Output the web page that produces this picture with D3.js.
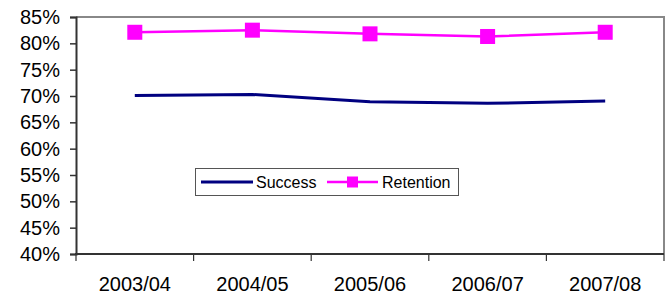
<!DOCTYPE html>
<html><head><meta charset="utf-8">
<script src="https://cdn.jsdelivr.net/npm/d3@7"></script>
<style>body{margin:0;background:#fff}svg{display:block}text{font-family:"Liberation Sans",Arial,sans-serif}</style>
</head><body><svg id="c" width="668" height="297"></svg>
<script>
const categories = ["2003/04","2004/05","2005/06","2006/07","2007/08"];
const success = [70.1, 70.3, 68.9, 68.6, 69.05];
const retention = [82.1, 82.5, 81.8, 81.3, 82.1];
const yTicks = [40,45,50,55,60,65,70,75,80,85];

const svg = d3.select("#c");
const L=76, R=664, T=17, B=254;
const x = d3.scaleBand().domain(categories).range([L,R]);
const y = d3.scaleLinear().domain([40,85]).range([B,T]);

// plot border (top/right gray)
svg.append("path").attr("d",`M${L},${T}H${R}V${B}`).attr("fill","none").attr("stroke","#888").attr("stroke-width",2);

// y axis
const ya = svg.append("g").attr("transform",`translate(${L},0)`)
  .call(d3.axisLeft(y).tickValues(yTicks).tickSize(6).tickPadding(10).tickFormat(d=>d+"%"));
ya.select(".domain").attr("stroke","#333").attr("stroke-width",2);
ya.selectAll(".tick line").attr("stroke","#333").attr("stroke-width",1.5);
ya.selectAll("text").attr("font-size",20).attr("fill","#000").attr("font-family","Liberation Sans, Arial, sans-serif");

// x axis
const xa = svg.append("g").attr("transform",`translate(0,${B})`)
  .call(d3.axisBottom(x).tickSize(0).tickPadding(0));
xa.select(".domain").remove();
xa.selectAll(".tick line").remove();
xa.selectAll("text").attr("font-size",20).attr("fill","#000").attr("dy",null).attr("y",37)
  .attr("font-family","Liberation Sans, Arial, sans-serif");
svg.append("line").attr("x1",L-1).attr("x2",R).attr("y1",B).attr("y2",B).attr("stroke","#333").attr("stroke-width",2);
const bounds = categories.map(c=>x(c)).concat([R]);
svg.selectAll(".xt").data(bounds).join("line").attr("class","xt")
  .attr("x1",d=>d).attr("x2",d=>d).attr("y1",B).attr("y2",B+7).attr("stroke","#333").attr("stroke-width",1.2);

const cx = c=>x(c)+x.bandwidth()/2;
const line = d3.line().x((d,i)=>cx(categories[i])).y(d=>y(d));

svg.append("path").datum(success).attr("d",line).attr("fill","none").attr("stroke","#000080").attr("stroke-width",3);
svg.append("path").datum(retention).attr("d",line).attr("fill","none").attr("stroke","#FF00FF").attr("stroke-width",2.5);
const ms=15;
svg.selectAll(".m").data(retention).join("rect").attr("class","m")
  .attr("x",(d,i)=>cx(categories[i])-ms/2).attr("y",d=>y(d)-ms/2).attr("width",ms).attr("height",ms).attr("fill","#FF00FF");

// legend
const lg = svg.append("g");
lg.append("rect").attr("x",195.5).attr("y",168.5).attr("width",263).attr("height",27).attr("fill","#fff").attr("stroke","#555").attr("stroke-width",1);
const ly=182;
lg.append("line").attr("x1",201).attr("x2",253).attr("y1",ly).attr("y2",ly).attr("stroke","#000080").attr("stroke-width",3);
lg.append("text").attr("x",256).attr("y",ly+6).attr("font-size",16).text("Success");
lg.append("line").attr("x1",327).attr("x2",378).attr("y1",ly).attr("y2",ly).attr("stroke","#FF00FF").attr("stroke-width",2.5);
lg.append("rect").attr("x",347).attr("y",ly-5.5).attr("width",11).attr("height",11).attr("fill","#FF00FF");
lg.append("text").attr("x",382).attr("y",ly+6).attr("font-size",16).text("Retention");
</script></body></html>
